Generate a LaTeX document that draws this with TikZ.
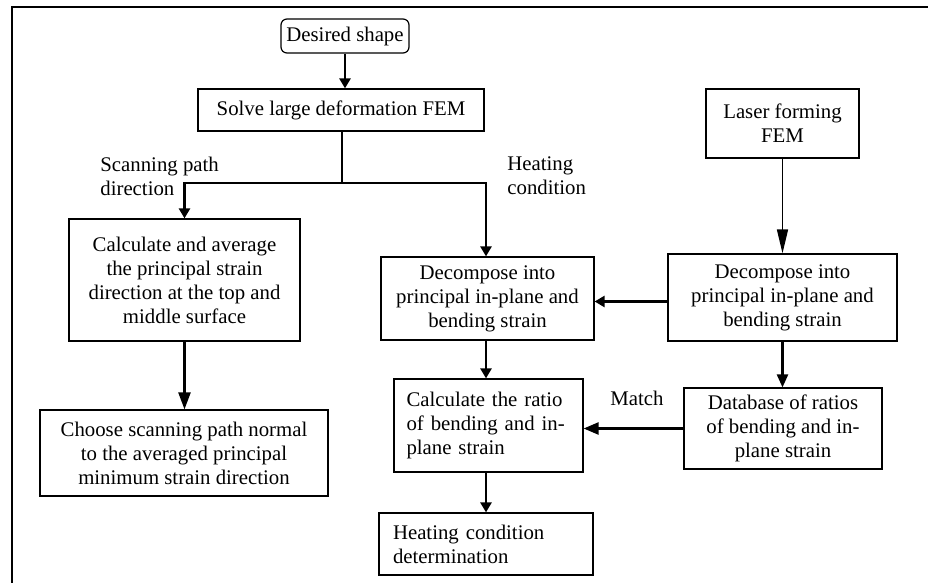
\documentclass[tikz,border=0pt]{standalone}
\usepackage{fontspec}
\setmainfont{Liberation Serif}
\usetikzlibrary{arrows.meta, positioning, calc}

\begin{document}
\begin{tikzpicture}[x=0.5pt,y=-0.5pt]
        \tikzset{
          boite/.style={
            draw,line width=0.6pt,align=center,inner sep=0pt,
            font=\fontsize{10.4}{12}\selectfont,text=black,
          },
          boite coins ronds/.style={boite,rounded corners=3pt},
          boite gauche/.style={boite,align=left},
          etiquette/.style={align=left,inner sep=0pt,font=\fontsize{10.4}{12}\selectfont},
          trait/.style={line width=1.2pt},
          fleche/.style={
            trait,-{Triangle[length=5pt,width=5.5pt]},
          },
          fleche longue/.style={fleche,-{Triangle[length=8.5pt,width=6pt]}},
          fleche fine/.style={line width=0.8pt,-{Triangle[length=12pt,width=5.5pt]}},
          }
        \useasboundingbox (0,0) rectangle (928,583);
        % cadre
        \draw[line width=0.6pt] (12,583) -- (12,7) -- (928,7);

        \node[boite coins ronds, minimum width=64pt, minimum height=17pt] (desire) at (345,36) {Desired shape};
        \node[boite, minimum width=143pt, minimum height=21pt] (solve) at (341,110) {Solve large deformation FEM};
        \node[boite, minimum width=76.5pt, minimum height=34.5pt] (laser) at (782.5,123.5) {Laser forming\\ FEM};
        \node[boite, minimum width=115.5pt, minimum height=61pt] (calcmoy) at (184.5,280) {Calculate and average\\
        the principal strain\\ direction at the top and\\ middle surface};
        \node[boite, minimum width=144pt, minimum height=43pt] (choix) at (184,453) {Choose scanning path normal\\
        to the averaged principal\\ minimum strain direction};
        \node[boite, minimum width=106.5pt, minimum height=41.5pt] (decompg) at (487.5,298.5) {Decompose into\\
        principal in-plane and\\ bending strain};
        \node[boite, minimum width=114.5pt, minimum height=43.5pt] (decompd) at (782.5,297.5) {Decompose into\\
        principal in-plane and\\ bending strain};
        \node[boite gauche, minimum width=94.5pt, minimum height=46.5pt, text width=82pt] (ratio) at (488.5,425.5) {Calculate the ratio\\
        of bending and in-\\ plane strain};
        \node[boite, minimum width=99pt, minimum height=40.5pt] (base) at (783,428.5) {Database of ratios\\
        of bending and in-\\ plane strain};
        \node[boite gauche, minimum width=107pt, minimum height=31pt, text width=93pt] (chauffe) at (486,544) {Heating condition\\ determination};

        \node[etiquette, anchor=west] (chemin) at (100,176) {Scanning path\\ direction};
        \node[etiquette, anchor=west] (condition) at (507,176) {Heating\\ condition};
        \node[etiquette] (match) at (637,398) {Match};

        \coordinate (jonction) at (342,183);
        \draw[fleche] (desire.south) -- (desire.south |- solve.north);
        \draw[trait] (solve.south -| jonction) -- (jonction);
        \draw[fleche] (jonction) -| (calcmoy.north);
        \draw[fleche] (jonction) -| ([xshift=-0.75pt]decompg.north);
        \draw[fleche longue] (calcmoy.south) -- (calcmoy.south |- choix.north);
        \draw[fleche fine] (laser.south) -- (decompd.north);
        \draw[fleche] ([yshift=-2pt]decompd.west) -- ([yshift=-2pt]decompd.west -| decompg.east);
        \draw[fleche] ([xshift=-0.75pt]decompg.south) -- ([xshift=-0.75pt]decompg.south |- ratio.north);
        \draw[fleche, -{Triangle[length=6.5pt,width=5.5pt]}] (decompd.south) -- (decompd.south |- base.north);
        \draw[fleche, -{Triangle[length=7.5pt,width=6pt]}] (base.west) -- (base.west -| ratio.east);
        \draw[fleche] ([xshift=-1.25pt]ratio.south) -- ([xshift=-1.25pt]ratio.south |- chauffe.north);
      \end{tikzpicture}
\end{document}
